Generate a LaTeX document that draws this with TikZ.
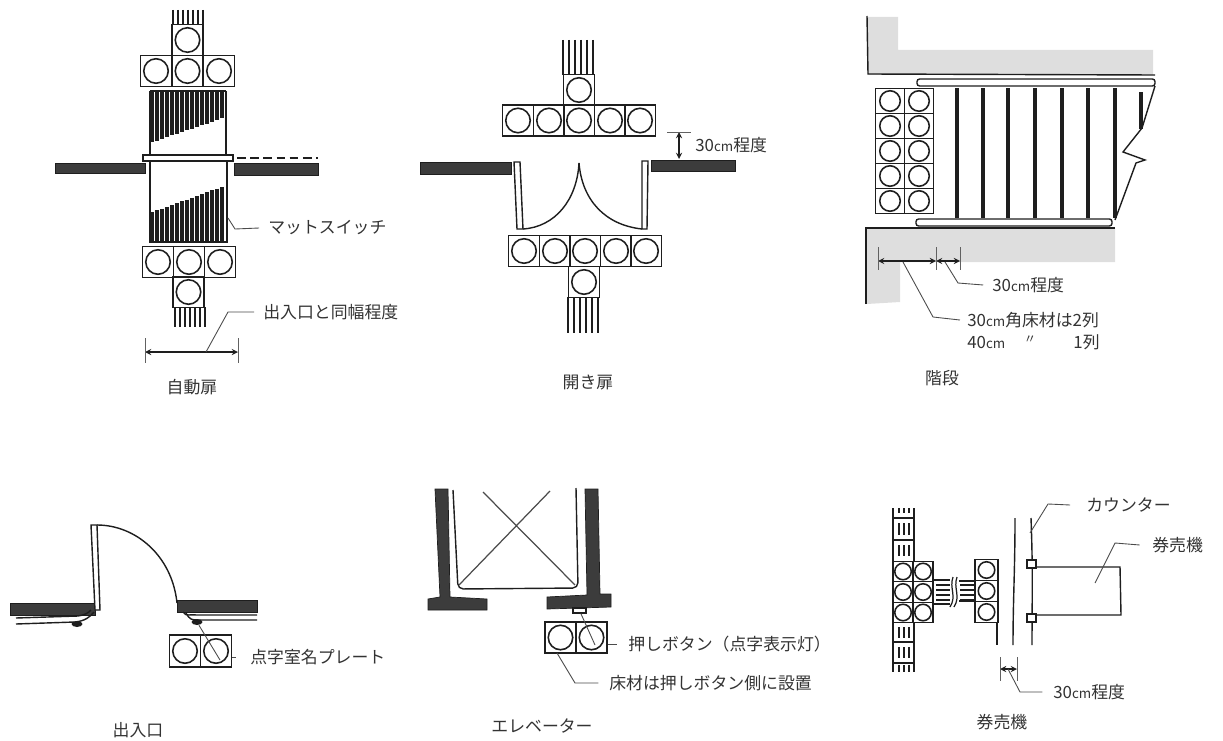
\documentclass[tikz,border=0pt]{standalone}
\usepackage{fontspec}
\setmainfont{Noto Sans CJK JP}
\usetikzlibrary{shapes.geometric}

\definecolor{ink}{HTML}{1E1E1E}
\definecolor{wallgray}{HTML}{3C3C3C}
\definecolor{bandgray}{HTML}{DEDEDE}
\definecolor{textgray}{HTML}{333333}

\tikzstyle{tile}=[draw=ink,line width=0.8pt,rectangle,minimum width=0.62cm,minimum height=0.62cm,inner sep=0pt]
\tikzstyle{stairtile}=[tile,minimum width=0.57cm,minimum height=0.5cm]
\tikzstyle{smalltile}=[tile,minimum width=0.4cm,minimum height=0.41cm]
\tikzstyle{narrowtile}=[tile,minimum width=0.46cm,minimum height=0.42cm]
\tikzstyle{stud}=[draw=ink,line width=0.9pt,circle,minimum size=0.49cm,inner sep=0pt]
\tikzstyle{smallstud}=[stud,minimum size=0.33cm]
\tikzstyle{stripe}=[draw=ink,line width=0.7pt]
\tikzstyle{matline}=[draw=ink,line width=1.9pt]
\tikzstyle{wall}=[draw=ink,line width=0.4pt,fill=wallgray]
\tikzstyle{panel}=[draw=ink,line width=0.8pt,fill=white]
\tikzstyle{outline}=[draw=ink,line width=0.8pt]
\tikzstyle{band}=[fill=bandgray]
\tikzstyle{leader}=[draw=ink!80,line width=0.5pt]
\tikzstyle{dimline}=[draw=ink,line width=0.6pt,<->,>=stealth]
\tikzstyle{tick}=[draw=ink!70,line width=0.4pt]
\tikzstyle{label}=[font=\fontsize{9.6}{11}\selectfont,text=textgray,inner sep=0pt,anchor=west]
\tikzstyle{caption}=[font=\fontsize{9.6}{11}\selectfont,text=textgray,inner sep=0pt]
\newcommand{\cmtext}{{\fontsize{7.6}{9}\selectfont cm}}

\begin{document}
\begin{tikzpicture}[x=0.02cm,y=-0.02cm]
    \useasboundingbox (0,0) rectangle (1223,740);

    % First the automatic door
    \foreach \x in {173,178,...,203}
        \draw[stripe] (\x,10) -- (\x,25);
    \foreach \pos/\name in {{(187.5,40)/autoa}, {(156,71)/autob}, {(187.5,71)/autoc}, {(219,71)/autod}, {(158,262)/autoe}, {(189,262)/autof}, {(220,262)/autog}, {(188.5,292)/autoh}}
        \node[tile] (\name) at \pos {} node[stud] at (\name) {};
    \foreach \x in {175,180,...,205}
        \draw[stripe] (\x,307) -- (\x,327);
    \draw[outline] (150,91) -- (226,91) (150,91) -- (150,157) (226,91) -- (226,157);
    \draw[outline] (150,161) -- (150,242) -- (227,242) -- (227,161);
    \foreach \x in {152,157,...,224} {
        \pgfmathsetmacro{\ylow}{143-(\x-150)*26/76}
        \draw[matline] (\x,91) -- (\x,\ylow);
        \pgfmathsetmacro{\yup}{213-(\x-150)*28/77}
        \draw[matline] (\x,\yup) -- (\x,242);
    }
    \draw[wall] (55,163) rectangle (145,173);
    \draw[wall] (234,163) rectangle (318,175);
    \draw[draw=ink,line width=1pt,dash pattern=on 5pt off 2.5pt] (237,158) -- (318,158);
    \draw[panel] (143,155) rectangle (233,161);
    \coordinate (matp) at (228,218);
    \coordinate (matk) at (235,229);
    \node[label] (matlabel) at (268,228) {マットスイッチ};
    \draw[leader] (matp) -- (matk) -- ([xshift=-5]matlabel.west);
    \coordinate (autol) at (145,352);
    \coordinate (autor) at (238,352);
    \draw[dimline] (autol) -- (autor);
    \draw[tick] (145,338) -- (145,363) (238,338) -- (238,363);
    \coordinate (autop) at (206,352);
    \coordinate (autok) at (228,312);
    \node[label] (autolabel) at (263,312) {出入口と同幅程度};
    \draw[leader] (autop) -- (autok) -- ([xshift=-5]autolabel.west);
    \node[caption] (autocap) at (192,387) {自動扉};

    % Then the swing door
    \foreach \x in {563,569,...,596}
        \draw[stripe] (\x,40) -- (\x,75);
    \foreach \pos/\name in {{(579,90)/swinga}, {(518,120.5)/swingb}, {(549,120.5)/swingc}, {(579,120.5)/swingd}, {(610,120.5)/swinge}, {(640,120.5)/swingf}, {(524,251)/swingg}, {(555,251)/swingh}, {(585,251)/swingi}, {(616,251)/swingj}, {(646,251)/swingk}, {(584,282)/swingl}}
        \node[tile] (\name) at \pos {} node[stud] at (\name) {};
    \foreach \x in {568,574,...,599}
        \draw[stripe] (\x,297) -- (\x,333);
    \draw[wall] (420,162) rectangle (511,174);
    \draw[wall] (651,160) rectangle (735,171);
    \draw[panel] (514,162) -- (520,162) -- (523,229) -- (517,229) -- cycle;
    \draw[panel] (642,161) -- (648,161) -- (647,229) -- (642,229) -- cycle;
    \draw[outline] (523,229) .. controls (555,227) and (577,200) .. (579,163);
    \draw[outline] (642,229) .. controls (605,225) and (582,200) .. (579,163);
    \coordinate (gapa) at (679,132);
    \coordinate (gapb) at (679,159);
    \draw[dimline] (gapa) -- (gapb);
    \draw[tick] (667,132) -- (691,132);
    \node[label] (gaplabel) at (695,145) {30\cmtext 程度};
    \node[caption] (swingcap) at (588,383) {開き扉};

    % Stairs
    \fill[band] (867,17) -- (898,17) -- (898,50) -- (1153,50) -- (1153,75) -- (868,75) -- cycle;
    \fill[band] (867,228) -- (1115,228) -- (1115,262) -- (900,262) -- (900,302) -- (867,304) -- cycle;
    \draw[outline] (867,16) -- (868,74) -- (1155,75);
    \draw[outline] (866,304) -- (866,228) -- (1115,228);
    \draw[panel,rounded corners=1.5pt] (917,79) rectangle (1155,86);
    \draw[panel,rounded corners=1.5pt] (916,219) rectangle (1112,226);
    \foreach \pos/\name in {{(890,101)/stepa}, {(919,101)/stepb}, {(890,126)/stepc}, {(919,126)/stepd}, {(890,151)/stepe}, {(919,151)/stepf}, {(890,176)/stepg}, {(919,176)/steph}, {(890,201)/stepi}, {(919,201)/stepj}}
        \node[stairtile] (\name) at \pos {} node[stud,minimum size=0.41cm] at (\name) {};
    \foreach \x in {957,983,1008,1035,1062,1088,1115}
        \draw[panel,line width=0.9pt] (\x-1,89) rectangle (\x+1,217);
    \draw[panel,line width=0.9pt] (1140,93) rectangle (1142,128);
    \draw[outline] (1155,86) -- (1142,128) -- (1123,152) -- (1145,160) -- (1136,163) -- (1115,220);
    \coordinate (stairl) at (878,261);
    \coordinate (stairm) at (936,261);
    \coordinate (stairr) at (960,261);
    \draw[dimline] (stairl) -- (stairm);
    \draw[dimline] (stairm) -- (stairr);
    \draw[tick] (878,247) -- (878,270) (936,247) -- (936,270) (960,247) -- (960,270);
    \coordinate (stairp) at (945,262);
    \coordinate (stairk) at (958,283);
    \node[label] (stairlabel) at (992,285) {30\cmtext 程度};
    \draw[leader] (stairp) -- (stairk) -- ([xshift=-5]stairlabel.west);
    \coordinate (rowp) at (903,262);
    \coordinate (rowk) at (933,317);
    \node[label] (rowlabel) at (967,320) {30\cmtext 角床材は2列};
    \draw[leader] (rowp) -- (rowk) -- ([xshift=-4]rowlabel.west);
    \node[label] (rowlabelb) at (967,342) {40\cmtext};
    \node[caption] (rowditto) at (1030,340) {\fontsize{7}{8}\selectfont 〃};
    \node[label,anchor=east] (rowcount) at (1100,342) {1列};
    \node[caption] (staircap) at (942,378) {階段};

    % Entrance
    \draw[wall] (10,603) rectangle (95,615);
    \draw[wall] (177,600) rectangle (257,612);
    \draw[panel] (91,525) -- (97,525) -- (100,610) -- (95,610) -- cycle;
    \draw[outline] (97,525) .. controls (135,525) and (172,555) .. (177,603);
    \draw[outline] (16,618) -- (78,616) .. controls (85,615) and (88,613) .. (91,610);
    \draw[outline] (16,624) -- (75,622) .. controls (85,621) and (90,617) .. (94,612);
    \node[ellipse,fill=ink,minimum width=0.22cm,minimum height=0.12cm,inner sep=0pt] (knoba) at (77,624) {};
    \draw[outline] (183,612) .. controls (186,617) and (190,614) .. (197,615) -- (257,615);
    \draw[outline] (186,613) .. controls (190,620) and (192,620) .. (198,620) -- (257,620);
    \node[ellipse,fill=ink,minimum width=0.22cm,minimum height=0.12cm,inner sep=0pt] (knobb) at (197,622) {};
    \foreach \pos/\name in {{(185,651)/plata}, {(216,651)/platb}}
        \node[tile,minimum height=0.64cm] (\name) at \pos {} node[stud] at (\name) {};
    \coordinate (platp) at (220,660);
    \draw[leader] (knobb) -- (platp);
    \node[label] (platlabel) at (250,657) {点字室名プレート};
    \draw[leader] (platb.east |- platlabel) -- ([xshift=-8]platlabel.west);
    \node[caption] (entrycap) at (138,730) {出入口};

    % Elevator
    \draw[wall] (435,489) -- (448,489) -- (450,597) -- (487,599) -- (487,610) -- (428,610) -- (428,599) -- (440,597) -- cycle;
    \draw[wall] (585,489) -- (598,489) -- (600,594) -- (611,594) -- (611,607) -- (547,609) -- (547,597) -- (587,595) -- cycle;
    \draw[outline,rounded corners=3pt] (453,490) -- (458,589) -- (578,588) -- (576,488);
    \draw[leader,line width=0.7pt] (483,492) -- (575,585) (550,491) -- (459,585);
    \node[draw=ink,line width=0.6pt,fill=white,minimum width=0.26cm,minimum height=0.1cm,inner sep=0pt] (pushb) at (579.5,610.5) {};
    \foreach \pos/\name in {{(560.5,637.5)/lifta}, {(591.5,637.5)/liftb}}
        \node[tile] (\name) at \pos {} node[stud] at (\name) {};
    \coordinate (liftp) at (595,645);
    \draw[leader] (pushb) -- (liftp);
    \node[label] (pushlabel) at (628,644) {押しボタン（点字表示灯）};
    \draw[leader] (liftb.east |- pushlabel) -- ([xshift=-6]pushlabel.west);
    \coordinate (floorp) at (557,653);
    \coordinate (floork) at (575,683);
    \node[label] (floorlabel) at (609,683) {床材は押しボタン側に設置};
    \draw[leader] (floorp) -- (floork) -- ([xshift=-6]floorlabel.west);
    \node[caption] (liftcap) at (542,726) {エレベーター};

    % Ticket machine
    \foreach \pos/\name in {{(903,571.5)/ticka}, {(923,571.5)/tickb}, {(903,592)/tickc}, {(923,592)/tickd}, {(903,612.5)/ticke}, {(923,612.5)/tickf}}
        \node[smalltile] (\name) at \pos {} node[smallstud] at (\name) {};
    \draw[outline] (893,508) -- (893,561) (914,508) -- (914,561) (893,518) -- (914,518) (893,540) -- (914,540);
    \draw[outline] (893,623) -- (893,672) (914,623) -- (914,672) (893,642) -- (914,642) (893,663) -- (914,663);
    \foreach \x in {899,904,909} {
        \draw[stripe] (\x,508) -- (\x,513) (\x,523) -- (\x,535) (\x,545) -- (\x,556);
        \draw[stripe] (\x,627) -- (\x,638) (\x,647) -- (\x,658) (\x,665) -- (\x,672);
    }
    \foreach \y in {585,590,595,600} {
        \draw[stripe] (936,\y) -- (950,\y);
        \draw[stripe] (960,\y) -- (975,\y);
    }
    \draw[outline] (933,580) -- (950,580) (933,604) -- (950,604) (959,581) -- (975,581) (959,601) -- (975,601);
    \draw[stripe] (953,577) .. controls (949,588) and (957,596) .. (950,607);
    \draw[stripe] (957,577) .. controls (953,588) and (961,596) .. (954,607);
    \foreach \pos/\name in {{(986.5,570)/ticki}, {(986.5,591)/tickj}, {(986.5,612)/tickk}}
        \node[narrowtile] (\name) at \pos {} node[smallstud] at (\name) {};
    \draw[outline] (997,623) -- (997,645);
    \draw[outline] (1015,518) .. controls (1015,570) and (1013,600) .. (1013,645);
    \draw[outline] (1031,518) .. controls (1033,570) and (1032,600) .. (1032,645);
    \draw[outline] (1036,567) -- (1120,567) -- (1121,615) -- (1036,615);
    \node[panel,minimum width=0.18cm,minimum height=0.16cm,inner sep=0pt,rectangle] (clipa) at (1031.5,564) {};
    \node[panel,minimum width=0.18cm,minimum height=0.16cm,inner sep=0pt,rectangle] (clipb) at (1031.5,618) {};
    \coordinate (countp) at (1030,533);
    \coordinate (countk) at (1048,504);
    \node[label] (countlabel) at (1086,505) {カウンター};
    \draw[leader] (countp) -- (countk) -- ([xshift=-9]countlabel.west);
    \coordinate (machp) at (1095,583);
    \coordinate (machk) at (1115,543);
    \node[label] (machlabel) at (1152,545) {券売機};
    \draw[leader] (machp) -- (machk) -- ([xshift=-7]machlabel.west);
    \coordinate (tickl) at (1000,669);
    \coordinate (tickr) at (1017,669);
    \draw[dimline] (tickl) -- (tickr);
    \draw[tick] (1000,657) -- (1000,681) (1017,657) -- (1017,681);
    \coordinate (tickp) at (1008,669);
    \coordinate (tickq) at (1020,692);
    \node[label] (ticklabel) at (1053,692) {30\cmtext 程度};
    \draw[leader] (tickp) -- (tickq) -- ([xshift=-6]ticklabel.west);
    \node[caption] (tickcap) at (1002,722) {券売機};
\end{tikzpicture}
\end{document}
